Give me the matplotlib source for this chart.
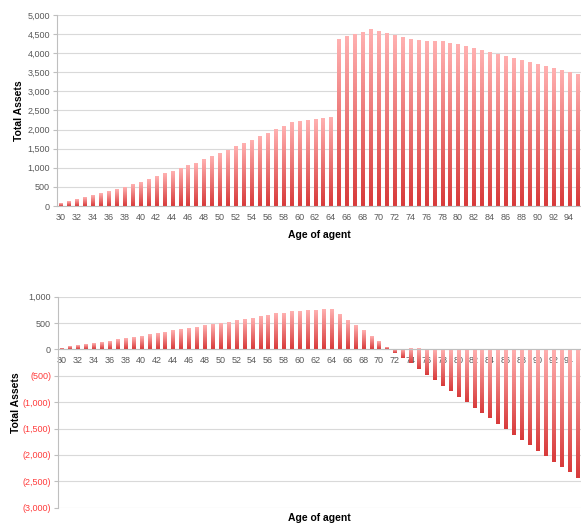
import numpy as np
import matplotlib
matplotlib.use("Agg")
import matplotlib.pyplot as plt
from matplotlib.colors import LinearSegmentedColormap
from matplotlib.ticker import FuncFormatter

# Dados (idade 30..95)
idades = list(range(30, 96))

ativos_cima = [
    61, 113, 166, 210, 270, 323, 375, 436, 497, 558,
    628, 698, 768, 838, 908, 977, 1056, 1117, 1205, 1283,
    1370, 1449, 1545, 1632, 1720, 1807, 1903, 1999, 2086, 2174,
    2200, 2226, 2261, 2287, 2313, 4365, 4426, 4496, 4548, 4609,
    4557, 4505, 4452, 4400, 4347, 4330, 4313, 4304, 4295, 4260,
    4216, 4164, 4112, 4059, 4007, 3955, 3902, 3850, 3797, 3754,
    3701, 3649, 3597, 3536, 3492, 3431,
]

ativos_baixo = [
    13, 38, 57, 82, 101, 127, 146, 171, 196, 222,
    241, 266, 291, 316, 342, 361, 386, 411, 437, 462,
    487, 506, 532, 557, 582, 608, 633, 665, 680, 709,
    709, 722, 728, 741, 747, 646, 544, 443, 342, 228,
    133, 32, -63, -165, -266, -380, -487, -582, -684, -791,
    -899, -1000, -1101, -1203, -1298, -1405, -1513, -1614, -1715, -1816,
    -1924, -2026, -2127, -2228, -2329, -2437,
]

rotulos_x = [str(i) for i in range(30, 95, 2)]

W, H = 581, 524
fig = plt.figure(figsize=(W / 100, H / 100), dpi=100)

fonte = "Liberation Sans"
cinza_txt = "#595959"
cmap = LinearSegmentedColormap.from_list("grad", ["#d83b3b", "#ffb0b0"])
gradiente = np.linspace(0, 1, 64).reshape(-1, 1)


def fmt_pos(v, pos):
    return f"{v:,.0f}"


def fmt_neg(v, pos):
    if v < 0:
        return f"({-v:,.0f})"
    return f"{v:,.0f}"


def desenha(ax, valores, ylim, passo, formatador):
    barras = ax.bar(idades, valores, width=0.38, color="none", zorder=2)
    for b in barras:
        x0, y0 = b.get_x(), b.get_y()
        w, h = b.get_width(), b.get_height()
        ylo, yhi = min(y0, y0 + h), max(y0, y0 + h)
        ax.imshow(gradiente, cmap=cmap, origin="lower", aspect="auto",
                  extent=[x0, x0 + w, ylo, yhi], zorder=2, interpolation="bilinear")
    ax.set_xlim(29.5, 95.5)
    ax.set_ylim(*ylim)
    ax.set_yticks(np.arange(ylim[0], ylim[1] + 1, passo))
    ax.yaxis.set_major_formatter(FuncFormatter(formatador))
    ax.set_xticks(range(30, 95, 2))
    ax.set_xticklabels(rotulos_x)
    ax.grid(axis="y", color="#d9d9d9", linewidth=0.8, zorder=0)
    ax.set_axisbelow(True)
    for s in ["top", "right"]:
        ax.spines[s].set_visible(False)
    ax.spines["left"].set_color("#bfbfbf")
    ax.spines["bottom"].set_color("#bfbfbf")
    ax.spines["bottom"].set_position(("data", 0))
    ax.tick_params(axis="x", length=0, pad=5, labelsize=6.5, labelcolor=cinza_txt)
    ax.tick_params(axis="y", length=3, color="#bfbfbf", pad=2, labelsize=6.5,
                   labelcolor=cinza_txt)
    for lbl in ax.get_xticklabels() + ax.get_yticklabels():
        lbl.set_fontfamily(fonte)
    ax.set_ylabel("Total Assets", fontsize=7.5, fontweight="bold", family=fonte)
    ax.set_xlabel("Age of agent", fontsize=7.5, fontweight="bold", family=fonte)


# Gráfico de cima
ax1 = fig.add_axes([57 / W, 1 - 206 / H, 1 - 57 / W, (206 - 15) / H])
desenha(ax1, ativos_cima, (0, 5000), 500, fmt_pos)
ax1.xaxis.set_label_coords(0.5, -0.125)
ax1.yaxis.set_label_coords(-0.063, 0.5)

# Gráfico de baixo
ax2 = fig.add_axes([58 / W, 1 - 507.7 / H, 1 - 58 / W, (507.7 - 296.7) / H])
desenha(ax2, ativos_baixo, (-3000, 1000), 500, fmt_neg)
for lbl in ax2.get_yticklabels():
    if lbl.get_text().startswith("("):
        lbl.set_color("#ff3b3b")
ax2.xaxis.set_label_coords(0.5, -0.027)
ax2.yaxis.set_label_coords(-0.071, 0.5)

fig.savefig("out.png", dpi=100)
